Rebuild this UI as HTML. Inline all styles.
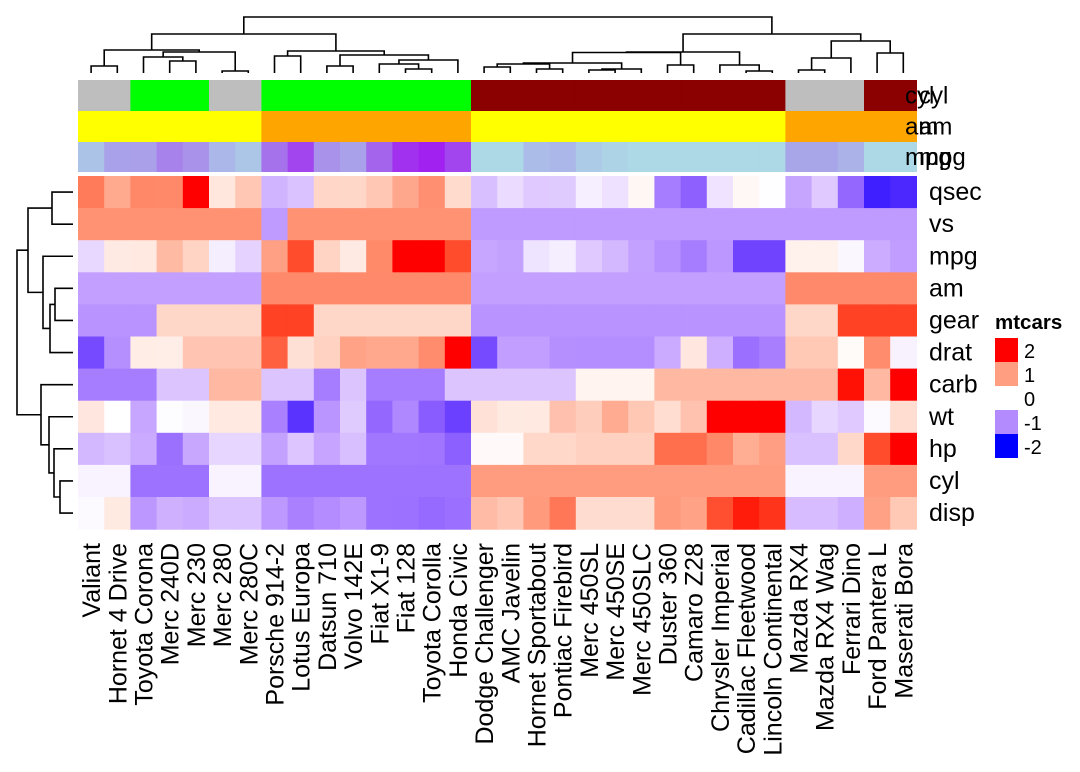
<!DOCTYPE html>
<html><head><meta charset="utf-8"><style>
html,body{margin:0;padding:0;background:#fff;}
svg{display:block;font-family:"Liberation Sans",sans-serif;}
</style></head><body>
<svg id="chart" width="1080" height="772" viewBox="0 0 1080 772" xmlns="http://www.w3.org/2000/svg"></svg>
<script>
// ---- data (columns in displayed order) ----
const cars = ["Valiant","Hornet 4 Drive","Toyota Corona","Merc 240D","Merc 230","Merc 280","Merc 280C","Porsche 914-2","Lotus Europa","Datsun 710","Volvo 142E","Fiat X1-9","Fiat 128","Toyota Corolla","Honda Civic","Dodge Challenger","AMC Javelin","Hornet Sportabout","Pontiac Firebird","Merc 450SL","Merc 450SE","Merc 450SLC","Duster 360","Camaro Z28","Chrysler Imperial","Cadillac Fleetwood","Lincoln Continental","Mazda RX4","Mazda RX4 Wag","Ferrari Dino","Ford Pantera L","Maserati Bora"];
const mpg  = [18.1,21.4,21.5,24.4,22.8,19.2,17.8,26,30.4,22.8,21.4,27.3,32.4,33.9,30.4,15.5,15.2,18.7,19.2,17.3,16.4,15.2,14.3,13.3,14.7,10.4,10.4,21,21,19.7,15.8,15];
const cyl  = [6,6,4,4,4,6,6,4,4,4,4,4,4,4,4,8,8,8,8,8,8,8,8,8,8,8,8,6,6,6,8,8];
const disp = [225,258,120.1,146.7,140.8,167.6,167.6,120.3,95.1,108,121,79,78.7,71.1,75.7,318,304,360,400,275.8,275.8,275.8,360,350,440,472,460,160,160,145,351,301];
const hp   = [105,110,97,62,95,123,123,91,113,93,109,66,66,65,52,150,150,175,175,180,180,180,245,245,230,205,215,110,110,175,264,335];
const drat = [2.76,3.08,3.70,3.69,3.92,3.92,3.92,4.43,3.77,3.85,4.11,4.08,4.08,4.22,4.93,2.76,3.15,3.15,3.08,3.07,3.07,3.07,3.21,3.73,3.23,2.93,3.00,3.90,3.90,3.62,4.22,3.54];
const wt   = [3.46,3.215,2.465,3.19,3.15,3.44,3.44,2.14,1.513,2.32,2.78,1.935,2.2,1.835,1.615,3.52,3.435,3.44,3.845,3.73,4.07,3.78,3.57,3.84,5.345,5.25,5.424,2.62,2.875,2.77,3.17,3.57];
const qsec = [20.22,19.44,20.01,20.00,22.90,18.30,18.90,16.70,16.90,18.61,18.60,18.90,19.47,19.90,18.52,16.87,17.30,17.02,17.05,17.60,17.40,18.00,15.84,15.41,17.42,17.98,17.82,16.46,17.02,15.50,14.50,14.60];
const vs   = [1,1,1,1,1,1,1,0,1,1,1,1,1,1,1,0,0,0,0,0,0,0,0,0,0,0,0,0,0,0,0,0];
const am   = [0,0,0,0,0,0,0,1,1,1,1,1,1,1,1,0,0,0,0,0,0,0,0,0,0,0,0,1,1,1,1,1];
const gear = [3,3,3,4,4,4,4,5,5,4,4,4,4,4,4,3,3,3,3,3,3,3,3,3,3,3,3,4,4,5,5,5];
const carb = [1,1,1,2,2,4,4,2,2,1,2,1,1,1,2,2,2,2,2,3,3,3,4,4,4,4,4,4,4,6,4,8];
const rowNames = ["qsec","vs","mpg","am","gear","drat","carb","wt","hp","cyl","disp"];
const rowData = [qsec,vs,mpg,am,gear,drat,carb,wt,hp,cyl,disp];
const legendTicks = [2,1,0,-1,-2];
const mpgBreaks = [16,34];
// dendrogram merge heights (node = [height, left, right]; leaves = index)
const colTree = [56,[39,[23,[7,0,1],[21,[16,2,[12,3,4]],[2,5,6]]],[22,[17,7,8],[18,[7,9,10],[13,[9,11,[4,12,13]],14]]]],
                    [39,[21,[20.5,[10,[9,[6,15,16],[4,17,18]],[4,[3,19,20],21]],[8,22,23]],[8,24,[2,25,26]]],
                        [32,[15,[3,27,28],29],[20,30,31]]]];
const rowTree = [56,[45,[21,0,1],[30,2,[23,[18,3,4],5]]],[32,6,[24,7,[19,8,[13,9,10]]]]];

// ---- layout ----
const NS="http://www.w3.org/2000/svg", svg=document.getElementById('chart');
const X0=78, CW=26.2, Y0=176, RH=32.1;
const colX=i=>X0+CW*i, colC=i=>X0+CW*(i+0.5), rowY=j=>Y0+RH*j, rowC=j=>Y0+RH*(j+0.5);
function el(tag,attrs,parent){const e=document.createElementNS(NS,tag);for(const k in attrs)e.setAttribute(k,attrs[k]);(parent||svg).appendChild(e);return e;}

// ---- colour (LAB interpolation like colorRamp2) ----
function toLin(c){c/=255;return c<=0.04045?c/12.92:Math.pow((c+0.055)/1.055,2.4);}
function fromLin(c){c=c<=0.0031308?12.92*c:1.055*Math.pow(c,1/2.4)-0.055;return Math.max(0,Math.min(255,Math.round(c*255)));}
function rgb2lab(r,g,b){r=toLin(r);g=toLin(g);b=toLin(b);
 let x=(r*0.4124+g*0.3576+b*0.1805)/0.95047,y=(r*0.2126+g*0.7152+b*0.0722),z=(r*0.0193+g*0.1192+b*0.9505)/1.08883;
 const f=t=>t>0.008856?Math.cbrt(t):7.787*t+16/116;x=f(x);y=f(y);z=f(z);return [116*y-16,500*(x-y),200*(y-z)];}
function lab2rgb(L,a,bb){let y=(L+16)/116,x=a/500+y,z=y-bb/200;const fi=t=>t*t*t>0.008856?t*t*t:(t-16/116)/7.787;
 x=fi(x)*0.95047;y=fi(y);z=fi(z)*1.08883;
 const r=x*3.2406+y*-1.5372+z*-0.4986,g=x*-0.9689+y*1.8758+z*0.0415,b=x*0.0557+y*-0.2040+z*1.0570;
 return `rgb(${fromLin(r)},${fromLin(g)},${fromLin(b)})`;}
function ramp(brk,cols){const labs=cols.map(c=>rgb2lab(...c));return v=>{v=Math.max(brk[0],Math.min(brk[brk.length-1],v));
 let i=0;while(i<brk.length-2&&v>brk[i+1])i++;const t=(v-brk[i])/(brk[i+1]-brk[i]);const A=labs[i],B=labs[i+1];
 return lab2rgb(A[0]+(B[0]-A[0])*t,A[1]+(B[1]-A[1])*t,A[2]+(B[2]-A[2])*t);};}
function rgbRamp(brk,a,b){return v=>{let t=(v-brk[0])/(brk[1]-brk[0]);t=Math.max(0,Math.min(1,t));
 return `rgb(${Math.round(a[0]+(b[0]-a[0])*t)},${Math.round(a[1]+(b[1]-a[1])*t)},${Math.round(a[2]+(b[2]-a[2])*t)})`;};}
const heatCol=ramp([-2,0,2],[[0,0,255],[255,255,255],[255,0,0]]);
const mpgCol=rgbRamp(mpgBreaks,[173,216,230],[160,32,240]);
const cylCol={4:"#00ff00",6:"#bebebe",8:"#8b0000"}, amCol={0:"#ffff00",1:"#ffa500"};
function zscore(a){const m=a.reduce((s,v)=>s+v,0)/a.length;const sd=Math.sqrt(a.reduce((s,v)=>s+(v-m)*(v-m),0)/(a.length-1));return a.map(v=>(v-m)/sd);}

// ---- annotations ----
const annTop=[80,111,142], annH=[31,31,30];
const annFns=[i=>cylCol[cyl[i]], i=>amCol[am[i]], i=>mpgCol(mpg[i])];
const annNames=["cyl","am","mpg"];
annNames.forEach((nm,k)=>{
  cars.forEach((c,i)=>{
    const r=el('rect',{x:colX(i),y:annTop[k],width:CW+0.6,height:annH[k],fill:annFns[k](i)});
    
    
  });
});
annNames.forEach((nm,k)=>{
  [905,919].forEach((x,q)=>{
    const t=el('text',{x:x,y:annTop[k]+annH[k]/2+8,'font-size':24,fill:'#000'});t.textContent=nm;
    
    
  });
});

// ---- heatmap cells ----
rowData.forEach((arr,j)=>{
  const z=zscore(arr);
  z.forEach((v,i)=>{
    const r=el('rect',{x:colX(i),y:rowY(j),width:CW+0.6,height:RH+0.6,fill:heatCol(v)});
    
    
  });
  const t=el('text',{x:929,y:rowC(j)+8,'font-size':25,fill:'#000'});t.textContent=rowNames[j];
  
  
});

// ---- column labels ----
cars.forEach((c,i)=>{
  const x=colC(i)+9, y=543;
  const t=el('text',{x:0,y:0,'font-size':25,'text-anchor':'end',transform:`translate(${x},${y}) rotate(-90)`,fill:'#000'});
  t.textContent=c;
  
  
});

// ---- dendrograms ----
const dg=el('g',{stroke:'#000','stroke-width':1.6,fill:'none'});


function drawTree(node,pos,base,horiz){
  if(typeof node==='number') return {p:pos(node),h:0};
  const a=drawTree(node[1],pos,base,horiz), b=drawTree(node[2],pos,base,horiz), h=node[0];
  let d;
  if(!horiz){
    d=`M${a.p},${base-a.h}V${base-h}H${b.p}V${base-b.h}`;
  } else {
    d=`M${base-a.h},${a.p}H${base-h}V${b.p}H${base-b.h}`;
  }
  const p=el('path',{d:d},dg);
  
  
  return {p:(a.p+b.p)/2,h:h};
}
drawTree(colTree,colC,73,false);
drawTree(rowTree,rowC,73,true);

// ---- legend ----
const lt=el('text',{x:995,y:329,'font-size':20.5,'font-weight':'bold',fill:'#000'});lt.textContent="mtcars";


legendTicks.forEach((v,k)=>{
  const y=338+k*24;
  if(v!==0){
    const r=el('rect',{x:995,y:y,width:23,height:24,fill:heatCol(v)});
    
    
  }
  const t=el('text',{x:1024,y:y+20,'font-size':20,fill:'#000'});t.textContent=String(v);
  
  
});
</script>
</body></html>
